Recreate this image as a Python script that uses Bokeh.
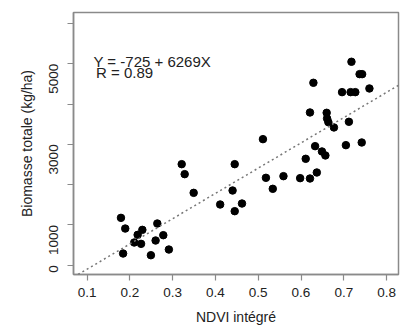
from bokeh.plotting import figure
from bokeh.models import Range1d, FixedTicker, Slope, Label, ColumnDataSource
from bokeh.embed import file_html
from bokeh.resources import INLINE
import math

ndvi = [0.179, 0.189, 0.184, 0.210, 0.218, 0.229, 0.226, 0.249, 0.260, 0.264,
        0.278, 0.291, 0.321, 0.328, 0.349, 0.411, 0.440, 0.445, 0.445, 0.462,
        0.511, 0.518, 0.534, 0.559, 0.598, 0.611, 0.621, 0.621, 0.629, 0.633,
        0.637, 0.649, 0.657, 0.660, 0.661, 0.664, 0.677, 0.696, 0.705, 0.712,
        0.716, 0.718, 0.727, 0.737, 0.743, 0.742, 0.760]
biomasse = [1175, 910, 290, 563, 753, 877, 530, 248, 613, 1035,
            745, 389, 2508, 2260, 1796, 1507, 1854, 2508, 1341, 1531,
            3129, 2169, 1896, 2210, 2161, 2641, 2152, 3791, 4528, 2955,
            2301, 2823, 2724, 3783, 3642, 3551, 3419, 4296, 2980, 3560,
            4296, 5050, 4296, 4743, 4743, 3046, 4387]

intercept = -725
slope = 6269
eq_text = "Y = -725 + 6269X"
r_text = "R = 0.89"

x_ticks = [0.1, 0.2, 0.3, 0.4, 0.5, 0.6, 0.7, 0.8]
y_ticks = [0, 1000, 2000, 3000, 4000, 5000, 6000]
y_hidden = [2000, 4000, 6000]

p = figure(frame_width=325, frame_height=262, output_backend="svg", toolbar_location=None,
           x_range=Range1d(0.068, 0.828), y_range=Range1d(-231, 6273),
           min_border_left=73, min_border_right=8, min_border_top=12, min_border_bottom=0)

p.grid.visible = False
p.outline_line_color = "#8a8a8a"
p.outline_line_width = 1.5
p.background_fill_color = "white"

src = ColumnDataSource(dict(x=ndvi, y=biomasse))
p.scatter("x", "y", source=src, size=7.5, color="black")

p.add_layout(Slope(gradient=slope, y_intercept=intercept, line_color="#777777",
                   line_width=1.5, line_dash="2 3"))

p.add_layout(Label(x=0.1147, y=5057, text=eq_text, text_font="Liberation Sans",
                   text_font_size="15px", text_color="#222222", text_baseline="alphabetic"))
p.add_layout(Label(x=0.1147, y=4777, x_offset=2.5, text=r_text, text_font="Liberation Sans",
                   text_font_size="15px", text_color="#222222", text_baseline="alphabetic"))

for ax in (p.xaxis[0], p.yaxis[0]):
    ax.axis_line_color = "#8a8a8a"
    ax.axis_line_width = 1.5
    ax.major_tick_line_color = "#8a8a8a"
    ax.major_tick_line_width = 1.2
    ax.major_tick_out = 6
    ax.major_tick_in = 0
    ax.minor_tick_line_color = None
    ax.major_label_text_font = "Liberation Sans"
    ax.major_label_text_font_size = "13.5px"
    ax.major_label_text_color = "#222222"
    ax.axis_label_text_font = "Liberation Sans"
    ax.axis_label_text_font_size = "14px"
    ax.axis_label_text_font_style = "normal"
    ax.axis_label_text_color = "#222222"

p.xaxis.ticker = FixedTicker(ticks=x_ticks)
p.xaxis.axis_label = "NDVI intégré"
p.xaxis.major_label_standoff = 7
p.xaxis.axis_label_standoff = 9

p.yaxis.ticker = FixedTicker(ticks=y_ticks)
p.yaxis.major_label_overrides = {v: "" for v in y_hidden}
p.yaxis.major_label_orientation = math.pi / 2
p.yaxis.axis_label = "Biomasse totale (kg/ha)"
p.yaxis.major_label_standoff = 14
p.yaxis.axis_label_standoff = 7

open("out.html", "w").write(file_html(p, INLINE))
